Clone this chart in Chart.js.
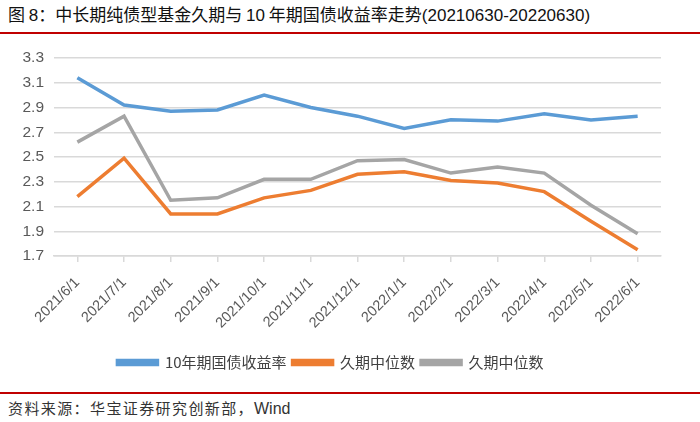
<!DOCTYPE html>
<html>
<head>
<meta charset="utf-8">
<script src="https://cdn.jsdelivr.net/npm/chart.js@4"></script>
<style>
    body { margin: 0; width: 700px; height: 422px; background: #fff; position: relative; overflow: hidden; }
    .title { position: absolute; left: 8px; top: 1px; font-family: "Noto Sans CJK SC", sans-serif; font-size: 17px; color: #111; white-space: nowrap; }
    .title .num { font-family: "Liberation Sans", Arial, sans-serif; }
    .rule { position: absolute; left: 0; width: 700px; height: 2px; background: #C00000; }
    .source { position: absolute; left: 8px; top: 397px; font-family: "Noto Sans CJK SC", sans-serif; font-size: 15px; letter-spacing: 1.4px; color: #333; white-space: nowrap; }
    .source span { font-family: "Liberation Sans", Arial, sans-serif; letter-spacing: 0; font-size: 16px; }
    #wrap { position: absolute; left: 0; top: 0; width: 700px; height: 384px; }
</style>
</head>
<body>
<div class="title">图 <span class="num">8</span>：中长期纯债型基金久期与 <span class="num">10</span> 年期国债收益率走势<span class="num">(20210630-20220630)</span></div>
<div class="rule" style="top:32px"></div>
<div id="wrap"><canvas id="durationChart"></canvas></div>
<div class="rule" style="top:392px"></div>
<div class="source">资料来源：华宝证券研究创新部，<span>Wind</span></div>
<script>
const months = ['2021/6/1', '2021/7/1', '2021/8/1', '2021/9/1', '2021/10/1', '2021/11/1', '2021/12/1',
    '2022/1/1', '2022/2/1', '2022/3/1', '2022/4/1', '2022/5/1', '2022/6/1'];
const yield10y = [3.14, 2.92, 2.87, 2.88, 3.00, 2.90, 2.83, 2.73, 2.80, 2.79, 2.85, 2.80, 2.83];
const durationMedianA = [2.18, 2.49, 2.04, 2.04, 2.17, 2.23, 2.36, 2.38, 2.31, 2.29, 2.22, 1.98, 1.75];
const durationMedianB = [2.62, 2.83, 2.15, 2.17, 2.32, 2.32, 2.47, 2.48, 2.37, 2.42, 2.37, 2.11, 1.88];
const seriesNames = ['10年期国债收益率', '久期中位数', '久期中位数'];

function lineSet(label, data, color) {
    return {
        label: label,
        data: data,
        borderColor: color,
        backgroundColor: color,
        borderWidth: 3.5,
        pointRadius: 0,
        tension: 0,
        fill: false
    };
}

const ctx = document.getElementById('durationChart').getContext('2d');
new Chart(ctx, {
    type: 'line',
    data: {
        labels: months,
        datasets: [
            lineSet(seriesNames[0], yield10y, '#5B9BD5'),
            lineSet(seriesNames[1], durationMedianA, '#ED7D31'),
            lineSet(seriesNames[2], durationMedianB, '#A5A5A5')
        ]
    },
    options: {
        responsive: true,
        maintainAspectRatio: false,
        animation: false,
        layout: { padding: { left: 0, right: 39, top: 58, bottom: 4 } },
        plugins: {
            title: { display: false },
            tooltip: { enabled: false },
            legend: {
                position: 'bottom',
                labels: {
                    boxWidth: 40,
                    boxHeight: 4,
                    color: '#404040',
                    font: { family: '"Noto Sans CJK SC", sans-serif', size: 15 },
                    padding: 6
                }
            }
        },
        scales: {
            x: {
                offset: true,
                grid: { display: true, drawOnChartArea: false, drawTicks: true, tickLength: 6, color: '#D9D9D9', lineWidth: 1.5 },
                border: { display: true, color: '#D9D9D9', width: 1.5 },
                ticks: {
                    minRotation: 45,
                    maxRotation: 45,
                    color: '#595959',
                    font: { family: '"Liberation Sans", Arial, sans-serif', size: 14.5 },
                    padding: 12
                },
                afterFit: scale => { scale.height = 93; }
            },
            y: {
                min: 1.7,
                max: 3.3,
                grid: { color: '#D9D9D9', lineWidth: 1.5, drawTicks: false },
                border: { display: false },
                ticks: {
                    stepSize: 0.2,
                    color: '#595959',
                    padding: 10,
                    font: { family: '"Liberation Sans", Arial, sans-serif', size: 15.5 },
                    callback: v => v.toFixed(1)
                },
                afterFit: scale => { scale.width = 54; }
            }
        }
    }
});
</script>
</body>
</html>
